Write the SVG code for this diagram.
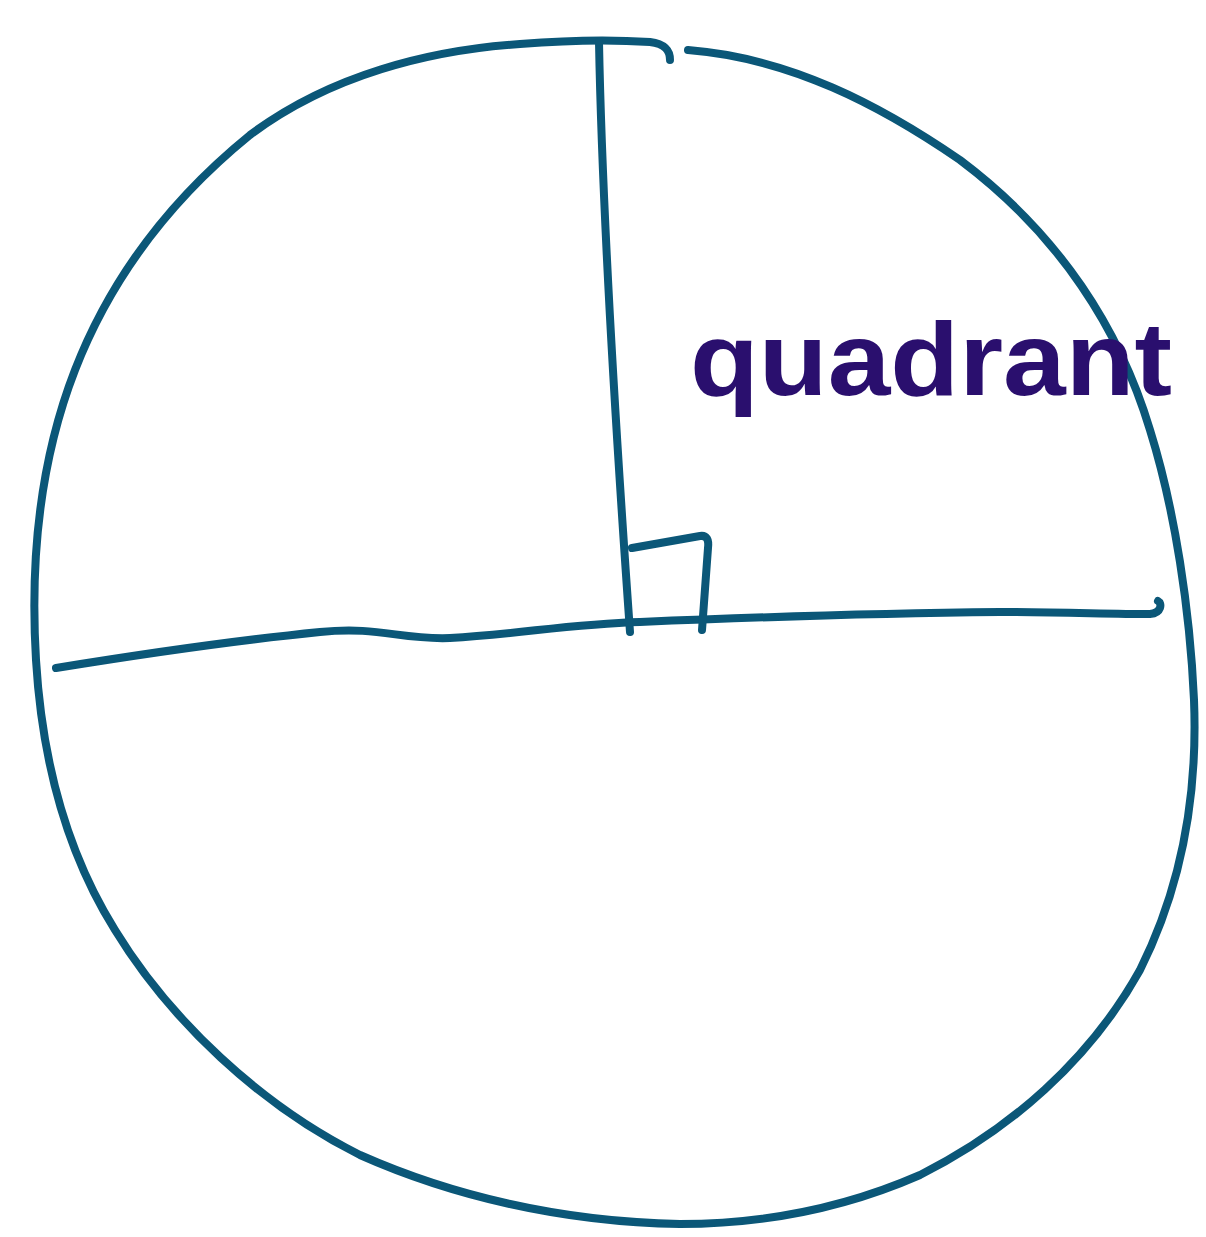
<svg xmlns="http://www.w3.org/2000/svg" width="1206" height="1237" viewBox="0 0 1206 1237">
<style>
.ink{fill:none;stroke:#0b5778;stroke-width:8;stroke-linecap:round;stroke-linejoin:round}
.lbl{font-family:"Liberation Sans",Arial,sans-serif;font-size:104px;fill:#2a0f6e;font-weight:bold}
</style>
<rect width="1206" height="1237" fill="#ffffff"/>
<g id="circle">
<path class="ink" d="M688,50 C790,58 880,105 960,160 C1060,235 1120,330 1150,430 C1175,510 1190,610 1194,700 C1198,800 1180,890 1140,970 C1090,1060 1010,1130 920,1175 C840,1210 760,1224 680,1224 C560,1222 450,1195 360,1155 C260,1105 170,1020 115,930 C65,850 42,760 36,660 C30,560 40,460 75,370 C110,280 170,200 250,135 C330,75 430,50 520,44 C570,40 620,40 650,42 C665,44 670,50 670,60"/>
</g>
<g id="radius">
<path class="ink" d="M599,42 C602,200 615,420 630,632"/>
</g>
<g id="diameter">
<path class="ink" d="M56,668 C130,656 220,642 320,632 C380,626 400,640 450,638 C520,634 570,624 640,622 C760,617 900,613 1000,612 C1060,612 1110,614 1150,614 C1162,613 1162,603 1158,601"/>
</g>
<g id="right-angle">
<path class="ink" d="M632,548 L700,536 C707,535 709,540 708,548 L702,630"/>
</g>
<g id="label">
<text class="lbl" x="690" y="395" textLength="482" lengthAdjust="spacingAndGlyphs">quadrant</text>
</g>
</svg>
